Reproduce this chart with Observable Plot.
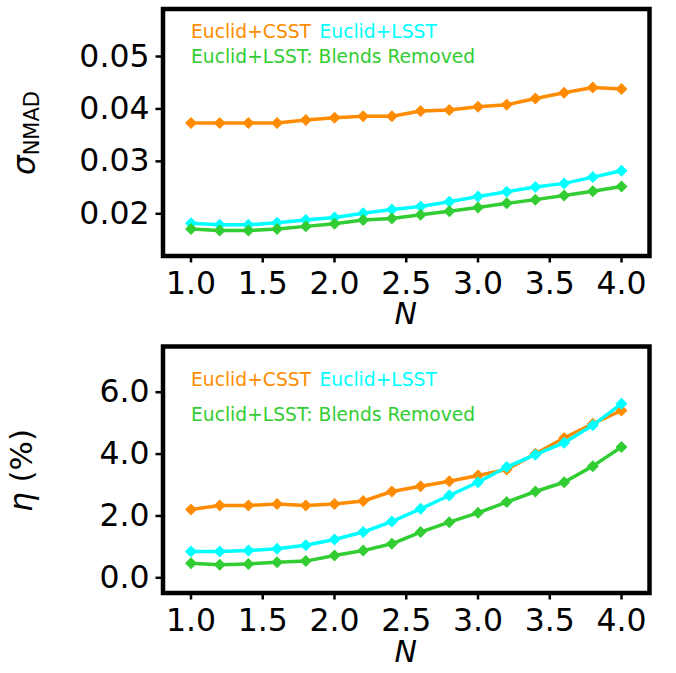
<!DOCTYPE html>
<html>
<head>
<meta charset="utf-8">
<script src="https://cdn.jsdelivr.net/npm/d3@7"></script>
<script src="https://cdn.jsdelivr.net/npm/@observablehq/plot@0.6"></script>
<style>
  html, body { margin: 0; padding: 0; background: white; }
  #chart { width: 676px; height: 673px; }
  #chart svg { display: block; }
</style>
</head>
<body>
<div id="chart"></div>
<script>
// ---- data ----
const N = [1.0, 1.2, 1.4, 1.6, 1.8, 2.0, 2.2, 2.4, 2.6, 2.8, 3.0, 3.2, 3.4, 3.6, 3.8, 4.0];

const sigmaCSST  = [0.0373, 0.0373, 0.0373, 0.0373, 0.0379, 0.0383, 0.0386, 0.0386, 0.0396, 0.0398, 0.0404, 0.0408, 0.0420, 0.0431, 0.0441, 0.0438];
const sigmaLSST  = [0.0182, 0.0179, 0.0179, 0.0183, 0.0188, 0.0193, 0.0201, 0.0208, 0.0214, 0.0223, 0.0233, 0.0242, 0.0251, 0.0258, 0.0270, 0.0282];
const sigmaBlend = [0.0171, 0.0168, 0.0168, 0.0171, 0.0176, 0.0181, 0.0188, 0.0191, 0.0198, 0.0205, 0.0212, 0.0220, 0.0227, 0.0235, 0.0243, 0.0252];

const etaCSST  = [2.21, 2.34, 2.34, 2.39, 2.34, 2.39, 2.48, 2.79, 2.96, 3.12, 3.31, 3.50, 4.01, 4.52, 4.98, 5.41];
const etaLSST  = [0.85, 0.85, 0.88, 0.94, 1.05, 1.24, 1.48, 1.82, 2.23, 2.66, 3.09, 3.58, 3.98, 4.37, 4.93, 5.63];
const etaBlend = [0.47, 0.42, 0.45, 0.50, 0.54, 0.72, 0.88, 1.10, 1.48, 1.80, 2.10, 2.45, 2.79, 3.09, 3.61, 4.23];

const seriesNames  = ["Euclid+CSST", "Euclid+LSST", "Euclid+LSST: Blends Removed"];
const seriesColors = ["#ff8c00", "#00ffff", "#32cd32"];

const xTicks = [1.0, 1.5, 2.0, 2.5, 3.0, 3.5, 4.0];
const sigmaTicks = [0.02, 0.03, 0.04, 0.05];
const etaTicks = [0.0, 2.0, 4.0, 6.0];

// ---- drawing ----
const FONT = "DejaVu Sans";
const W = 676;
const mL = 162.5, mR = 27;

function toRows(values, name) {
  return N.map((n, i) => ({N: n, v: values[i], s: name}));
}

function panel({height, marginTop, marginBottom, yDomain, yTicks, yFmt, seriesValues, legendDy}) {
  const marks = [];
  seriesValues.forEach((vals, k) => {
    const rows = toRows(vals, seriesNames[k]);
    marks.push(Plot.line(rows, {x: "N", y: "v", stroke: seriesColors[k], strokeWidth: 3.5}));
    marks.push(Plot.dot(rows, {x: "N", y: "v", fill: seriesColors[k], symbol: "diamond2", r: 5.4, stroke: "none"}));
  });
  // legend texts
  marks.push(Plot.text([seriesNames[0]], {text: d => d, frameAnchor: "top-left", textAnchor: "start", lineAnchor: "bottom",
    dx: 28, dy: legendDy[0], fill: seriesColors[0], fontSize: 18.7, fontFamily: FONT}));
  marks.push(Plot.text([seriesNames[1]], {text: d => d, frameAnchor: "top-left", textAnchor: "start", lineAnchor: "bottom",
    dx: 156.5, dy: legendDy[0], fill: seriesColors[1], fontSize: 18.7, fontFamily: FONT}));
  marks.push(Plot.text([seriesNames[2]], {text: d => d, frameAnchor: "top-left", textAnchor: "start", lineAnchor: "bottom",
    dx: 28, dy: legendDy[1], fill: seriesColors[2], fontSize: 18.7, fontFamily: FONT}));
  marks.push(Plot.axisX({ticks: xTicks, tickFormat: d3.format(".1f"), tickSize: 7, tickPadding: 9, strokeWidth: 2.5, fontSize: 31.5, label: null}));
  marks.push(Plot.axisY({ticks: yTicks, tickFormat: d3.format(yFmt), tickSize: 7, tickPadding: 6.5, strokeWidth: 2.5, fontSize: 31.5, label: null}));
  marks.push(Plot.frame({stroke: "black", strokeWidth: 4.5}));
  return Plot.plot({
    width: W, height, marginLeft: mL, marginRight: mR, marginTop, marginBottom,
    style: {fontFamily: FONT, color: "black", background: "white", overflow: "visible"},
    x: {domain: [0.805, 4.195]},
    y: {domain: yDomain},
    marks
  });
}

const topPanel = panel({height: 337, marginTop: 8.5, marginBottom: 81.5,
  yDomain: [0.01195, 0.05906], yTicks: sigmaTicks, yFmt: ".2f",
  seriesValues: [sigmaCSST, sigmaLSST, sigmaBlend], legendDy: [29, 54]});
const bottomPanel = panel({height: 336, marginTop: 9, marginBottom: 80.5,
  yDomain: [-0.491, 7.478], yTicks: etaTicks, yFmt: ".1f",
  seriesValues: [etaCSST, etaLSST, etaBlend], legendDy: [39, 74]});

const chart = document.getElementById("chart");
chart.appendChild(topPanel);
chart.appendChild(bottomPanel);

// axis labels (math-style)
function addXLabel(svg, y) {
  d3.select(svg).append("text")
    .attr("x", (mL + (W - mR)) / 2).attr("y", y)
    .attr("text-anchor", "middle").attr("font-family", FONT)
    .attr("font-size", 30).attr("font-style", "italic").attr("fill", "black")
    .text("N");
}
addXLabel(topPanel, 324);
addXLabel(bottomPanel, 324.7);

const t1 = d3.select(topPanel).append("text")
  .attr("transform", "translate(35,133) rotate(-90)")
  .attr("text-anchor", "middle").attr("font-family", FONT).attr("fill", "black");
t1.append("tspan").attr("font-size", 31).attr("font-style", "italic").text("σ");
t1.append("tspan").attr("font-size", 21).attr("dy", 4).text("NMAD");

const t2 = d3.select(bottomPanel).append("text")
  .attr("transform", "translate(32,133.5) rotate(-90)")
  .attr("text-anchor", "middle").attr("font-family", FONT).attr("fill", "black").attr("font-size", 31);
t2.append("tspan").attr("font-style", "italic").text("η");
t2.append("tspan").text(" (%)");
</script>
</body>
</html>
